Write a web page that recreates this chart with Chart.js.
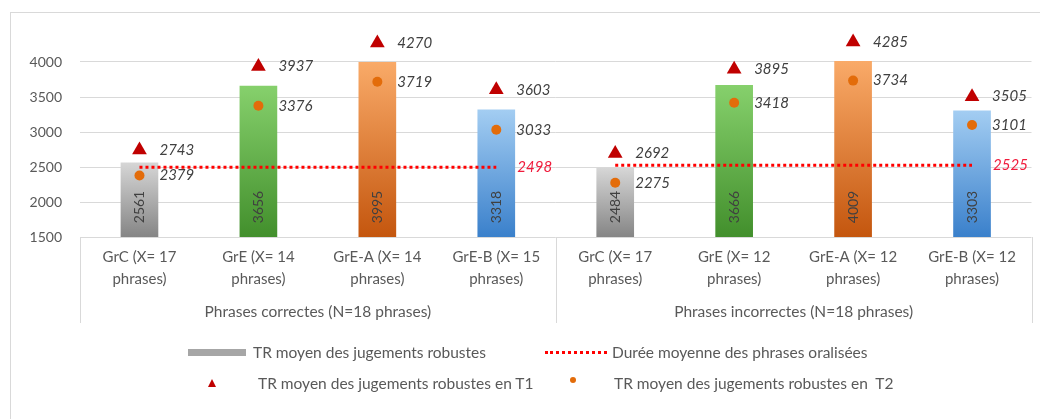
<!DOCTYPE html>
<html>
<head>
<meta charset="utf-8">
<script src="https://cdn.jsdelivr.net/npm/chart.js@4.4.1/dist/chart.umd.min.js"></script>
<style>
    body { margin: 0; background: #fff; overflow: hidden; }
    #wrap { position: relative; width: 1040px; height: 419px; font-family: Lato, 'Open Sans', sans-serif; }
    #frame { position: absolute; left: 10px; top: 12px; width: 1100px; height: 500px; border: 1px solid #d9d9d9; }
    #chart { position: absolute; left: 0; top: 0; }
    .leg { position: absolute; font-size: 15.5px; color: #595959; line-height: 18px; white-space: nowrap; }
    .sw { position: absolute; }
</style>
</head>
<body>
<div id="wrap">
    <div id="frame"></div>
    <canvas id="chart" width="1040" height="419"></canvas>

    <div class="sw" style="left:188px; top:349px; width:58px; height:7px; background:#a6a6a6;"></div>
    <div class="leg" style="left:253px; top:343px;">TR moyen des jugements robustes</div>
    <div class="sw" style="left:545px; top:351px; width:62px; border-top:3px dotted #ff0000;"></div>
    <div class="leg" style="left:612px; top:343px;">Durée moyenne des phrases oralisées</div>

    <div class="sw" style="left:208px; top:379px; width:0; height:0; border-left:4px solid transparent; border-right:4px solid transparent; border-bottom:8px solid #c00000;"></div>
    <div class="leg" style="left:258px; top:374px;">TR moyen des jugements robustes en T1</div>
    <div class="sw" style="left:570px; top:377px; width:6px; height:6px; border-radius:3px; background:#e36c0a;"></div>
    <div class="leg" style="left:614px; top:374px;">TR moyen des jugements robustes en&nbsp; T2</div>
</div>

<script>
// groups and categories
const categories = [
    ['GrC (X= 17', 'phrases)'], ['GrE (X= 14', 'phrases)'], ['GrE-A (X= 14', 'phrases)'], ['GrE-B (X= 15', 'phrases)'],
    ['GrC (X= 17', 'phrases)'], ['GrE (X= 12', 'phrases)'], ['GrE-A (X= 12', 'phrases)'], ['GrE-B (X= 12', 'phrases)']
];
const groupLabels = ['Phrases correctes (N=18 phrases)', 'Phrases incorrectes (N=18 phrases)'];

// reaction times (ms)
const meanTR = [2561, 3656, 3995, 3318, 2484, 3666, 4009, 3303];
const trT1 = [2743, 3937, 4270, 3603, 2692, 3895, 4285, 3505];
const trT2 = [2379, 3376, 3719, 3033, 2275, 3418, 3734, 3101];
const sentenceDuration = [2498, 2498, 2498, 2498, 2525, 2525, 2525, 2525];

const yTicks = [1500, 2000, 2500, 3000, 3500, 4000];
// axis runs a bit past the last tick so the T1 markers above 4000 stay inside
const yMax = 4300;

// light top / dark bottom for each group member
const barShades = [
    ['#d6d6d6', '#858585'],
    ['#86d06c', '#428f2c'],
    ['#f9aa68', '#c4560e'],
    ['#a3cdf2', '#3a80cb']
];

const RED = '#ff0000';
const LABEL_FONT = 'italic 15px Lato';

function barFill(c) {
    const shade = barShades[c.dataIndex % 4];
    const chart = c.chart;
    const area = chart.chartArea;
    if (!area || !chart.scales.y) return shade[1];
    const top = chart.scales.y.getPixelForValue(c.raw);
    const g = chart.ctx.createLinearGradient(0, top, 0, area.bottom);
    g.addColorStop(0, shade[0]);
    g.addColorStop(1, shade[1]);
    return g;
}

const valueLabels = {
    id: 'valueLabels',
    afterDatasetsDraw(chart) {
        const ctx = chart.ctx;
        const area = chart.chartArea;
        ctx.save();

        // bar values, rotated, near the base
        ctx.font = '14px Lato';
        ctx.fillStyle = '#404040';
        ctx.textAlign = 'center';
        ctx.textBaseline = 'middle';
        chart.getDatasetMeta(0).data.forEach((el, i) => {
            ctx.save();
            ctx.translate(el.x, area.bottom - 30);
            ctx.rotate(-Math.PI / 2);
            ctx.fillText(meanTR[i], 0, 0);
            ctx.restore();
        });

        // T1 and T2 values to the right of the markers
        ctx.font = LABEL_FONT;
        ctx.textAlign = 'left';
        [[2, trT1], [3, trT2]].forEach(([idx, values]) => {
            chart.getDatasetMeta(idx).data.forEach((el, i) => {
                ctx.fillText(values[i], el.x + 20, el.y);
            });
        });

        // duration value at the end of each group line
        ctx.fillStyle = '#f01c3c';
        const line = chart.getDatasetMeta(1).data;
        [3, 7].forEach(i => {
            ctx.fillText(sentenceDuration[i], line[i].x + 21, line[i].y);
        });
        ctx.restore();
    },
    afterDraw(chart) {
        const ctx = chart.ctx;
        const area = chart.chartArea;
        const x = chart.scales.x;
        const mid = (x.getPixelForValue(3) + x.getPixelForValue(4)) / 2;
        const bottom = area.bottom + 86;
        ctx.save();
        ctx.strokeStyle = '#d9d9d9';
        ctx.lineWidth = 1;
        [area.left, mid, area.right].forEach(px => {
            ctx.beginPath();
            ctx.moveTo(Math.round(px) + 0.5, area.bottom);
            ctx.lineTo(Math.round(px) + 0.5, bottom);
            ctx.stroke();
        });
        ctx.font = '15.5px Lato';
        ctx.fillStyle = '#595959';
        ctx.textAlign = 'center';
        ctx.textBaseline = 'middle';
        ctx.fillText(groupLabels[0], (area.left + mid) / 2, area.bottom + 75);
        ctx.fillText(groupLabels[1], (mid + area.right) / 2, area.bottom + 75);
        ctx.restore();
    }
};

const chart = new Chart(document.getElementById('chart'), {
    data: {
        labels: categories,
        datasets: [
            {
                type: 'bar',
                data: meanTR,
                backgroundColor: barFill,
                barThickness: 37,
                order: 4
            },
            {
                type: 'line',
                data: sentenceDuration,
                borderColor: RED,
                borderWidth: 3,
                borderDash: [3, 3],
                pointRadius: 0,
                segment: {
                    // no link between the two groups
                    borderColor: s => s.p0DataIndex === 3 ? 'rgba(0,0,0,0)' : RED
                },
                order: 3
            },
            {
                type: 'line',
                data: trT1,
                showLine: false,
                pointStyle: 'triangle',
                pointRadius: 8.5,
                pointBackgroundColor: '#c00000',
                pointBorderWidth: 0,
                clip: false,
                order: 1
            },
            {
                type: 'line',
                data: trT2,
                showLine: false,
                pointStyle: 'circle',
                pointRadius: 5,
                pointBackgroundColor: '#e36c0a',
                pointBorderWidth: 0,
                clip: false,
                order: 2
            }
        ]
    },
    options: {
        responsive: false,
        animation: false,
        layout: { padding: { top: 41, right: 8, left: 0, bottom: 0 } },
        plugins: { legend: { display: false }, tooltip: { enabled: false } },
        scales: {
            x: {
                grid: { display: false, drawTicks: false },
                border: { display: false },
                ticks: {
                    color: '#595959',
                    font: { family: 'Lato', size: 15, lineHeight: 1.47 },
                    padding: 9,
                    maxRotation: 0,
                    autoSkip: false
                },
                afterFit: s => { s.height = 182; }
            },
            y: {
                min: yTicks[0],
                max: yMax,
                grid: { color: '#d9d9d9', drawTicks: false },
                border: { display: false },
                ticks: {
                    color: '#595959',
                    font: { family: 'Lato', size: 14 },
                    padding: 18,
                    callback: v => String(v)
                },
                afterBuildTicks: s => { s.ticks = yTicks.map(v => ({ value: v })); },
                afterFit: s => { s.width = 80; }
            }
        }
    },
    plugins: [valueLabels]
});
</script>
</body>
</html>
